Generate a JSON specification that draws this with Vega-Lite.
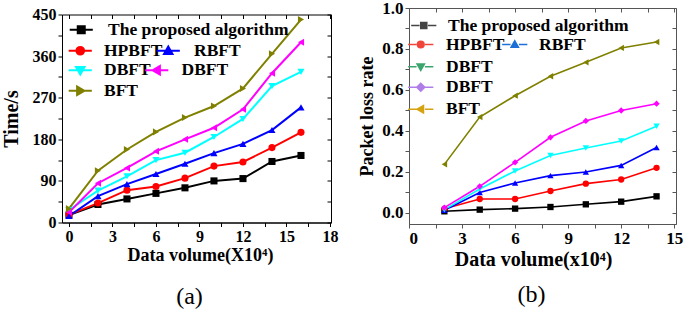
{
  "$schema": "https://vega.github.io/schema/vega-lite/v6.json",
  "padding": {"left": 0, "top": -2, "right": 0, "bottom": 0},
  "background": "white",
  "spacing": 19,
  "config": {
    "font": "Liberation Serif",
    "axis": {"grid": false, "labelOverlap": false, "labelFont": "Liberation Serif", "labelFontWeight": "bold", "titleFont": "Liberation Serif", "titleFontWeight": "bold", "labelColor": "#000", "titleColor": "#000"},
    "legend": {"labelFont": "Liberation Serif", "labelFontWeight": "bold", "labelColor": "#000", "labelLimit": 400, "padding": 0, "title": null}
  },
  "datasets": {
    "time": [
      {"series": "The proposed algorithm", "x": 0, "y": 16}, {"series": "The proposed algorithm", "x": 2, "y": 39}, {"series": "The proposed algorithm", "x": 4, "y": 51}, {"series": "The proposed algorithm", "x": 6, "y": 63}, {"series": "The proposed algorithm", "x": 8, "y": 75}, {"series": "The proposed algorithm", "x": 10, "y": 90}, {"series": "The proposed algorithm", "x": 12, "y": 95}, {"series": "The proposed algorithm", "x": 14, "y": 132}, {"series": "The proposed algorithm", "x": 16, "y": 145},
      {"series": "HPBFT", "x": 0, "y": 17}, {"series": "HPBFT", "x": 2, "y": 42}, {"series": "HPBFT", "x": 4, "y": 70}, {"series": "HPBFT", "x": 6, "y": 78}, {"series": "HPBFT", "x": 8, "y": 96}, {"series": "HPBFT", "x": 10, "y": 122}, {"series": "HPBFT", "x": 12, "y": 131}, {"series": "HPBFT", "x": 14, "y": 162}, {"series": "HPBFT", "x": 16, "y": 195},
      {"series": "RBFT", "x": 0, "y": 14}, {"series": "RBFT", "x": 2, "y": 57}, {"series": "RBFT", "x": 4, "y": 83}, {"series": "RBFT", "x": 6, "y": 105}, {"series": "RBFT", "x": 8, "y": 127}, {"series": "RBFT", "x": 10, "y": 150}, {"series": "RBFT", "x": 12, "y": 170}, {"series": "RBFT", "x": 14, "y": 200}, {"series": "RBFT", "x": 16, "y": 249},
      {"series": "DBFT", "x": 0, "y": 27}, {"series": "DBFT", "x": 2, "y": 69}, {"series": "DBFT", "x": 4, "y": 100}, {"series": "DBFT", "x": 6, "y": 135}, {"series": "DBFT", "x": 8, "y": 151}, {"series": "DBFT", "x": 10, "y": 185}, {"series": "DBFT", "x": 12, "y": 224}, {"series": "DBFT", "x": 14, "y": 295}, {"series": "DBFT", "x": 16, "y": 326},
      {"series": "DBFT-2", "x": 0, "y": 22}, {"series": "DBFT-2", "x": 2, "y": 85}, {"series": "DBFT-2", "x": 4, "y": 118}, {"series": "DBFT-2", "x": 6, "y": 154}, {"series": "DBFT-2", "x": 8, "y": 180}, {"series": "DBFT-2", "x": 10, "y": 205}, {"series": "DBFT-2", "x": 12, "y": 245}, {"series": "DBFT-2", "x": 14, "y": 323}, {"series": "DBFT-2", "x": 16, "y": 390},
      {"series": "BFT", "x": 0, "y": 30}, {"series": "BFT", "x": 2, "y": 112}, {"series": "BFT", "x": 4, "y": 158}, {"series": "BFT", "x": 6, "y": 196}, {"series": "BFT", "x": 8, "y": 227}, {"series": "BFT", "x": 10, "y": 252}, {"series": "BFT", "x": 12, "y": 290}, {"series": "BFT", "x": 14, "y": 365}, {"series": "BFT", "x": 16, "y": 439}
    ],
    "loss": [
      {"series": "The proposed algorithm", "x": 2, "y": 0.008}, {"series": "The proposed algorithm", "x": 4, "y": 0.016}, {"series": "The proposed algorithm", "x": 6, "y": 0.021}, {"series": "The proposed algorithm", "x": 8, "y": 0.029}, {"series": "The proposed algorithm", "x": 10, "y": 0.042}, {"series": "The proposed algorithm", "x": 12, "y": 0.055}, {"series": "The proposed algorithm", "x": 14, "y": 0.081},
      {"series": "HPBFT", "x": 2, "y": 0.02}, {"series": "HPBFT", "x": 4, "y": 0.068}, {"series": "HPBFT", "x": 6, "y": 0.068}, {"series": "HPBFT", "x": 8, "y": 0.107}, {"series": "HPBFT", "x": 10, "y": 0.143}, {"series": "HPBFT", "x": 12, "y": 0.163}, {"series": "HPBFT", "x": 14, "y": 0.22},
      {"series": "RBFT", "x": 2, "y": 0.013}, {"series": "RBFT", "x": 4, "y": 0.1}, {"series": "RBFT", "x": 6, "y": 0.146}, {"series": "RBFT", "x": 8, "y": 0.182}, {"series": "RBFT", "x": 10, "y": 0.2}, {"series": "RBFT", "x": 12, "y": 0.232}, {"series": "RBFT", "x": 14, "y": 0.319},
      {"series": "DBFT", "x": 2, "y": 0.016}, {"series": "DBFT", "x": 4, "y": 0.117}, {"series": "DBFT", "x": 6, "y": 0.205}, {"series": "DBFT", "x": 8, "y": 0.28}, {"series": "DBFT", "x": 10, "y": 0.317}, {"series": "DBFT", "x": 12, "y": 0.351}, {"series": "DBFT", "x": 14, "y": 0.423},
      {"series": "DBFT-2", "x": 2, "y": 0.026}, {"series": "DBFT-2", "x": 4, "y": 0.13}, {"series": "DBFT-2", "x": 6, "y": 0.247}, {"series": "DBFT-2", "x": 8, "y": 0.369}, {"series": "DBFT-2", "x": 10, "y": 0.449}, {"series": "DBFT-2", "x": 12, "y": 0.5}, {"series": "DBFT-2", "x": 14, "y": 0.533},
      {"series": "BFT", "x": 2, "y": 0.237}, {"series": "BFT", "x": 4, "y": 0.468}, {"series": "BFT", "x": 6, "y": 0.572}, {"series": "BFT", "x": 8, "y": 0.667}, {"series": "BFT", "x": 10, "y": 0.735}, {"series": "BFT", "x": 12, "y": 0.805}, {"series": "BFT", "x": 14, "y": 0.834}
    ]
  },
  "hconcat": [
    {
      "bounds": "flush",
      "spacing": 5.5,
      "vconcat": [
        {
          "width": 269,
          "height": 1,
          "data": {"values": []},
          "mark": "point",
          "view": {"stroke": null}
        },
        {
          "width": 269,
          "height": 208,
          "data": {"name": "time"},
          "view": {"stroke": "#000", "strokeWidth": 1},
          "title": {"text": "(a)", "orient": "bottom", "anchor": "middle", "font": "Liberation Serif", "fontSize": 24, "fontWeight": "normal", "color": "#000", "offset": 20, "dx": -7},
          "layer": [
            {
              "mark": {"type": "line", "strokeWidth": 2},
              "encoding": {
                "x": {"field": "x", "type": "quantitative", "scale": {"domain": [-0.48, 18.07], "nice": false, "zero": false}, "axis": {"orient": "bottom", "values": [0, 1.5, 3, 4.5, 6, 7.5, 9, 10.5, 12, 13.5, 15, 16.5, 18], "labelExpr": "datum.value % 3 == 0 ? datum.label : ''", "labelFontSize": 16, "tickSize": 4, "tickColor": "#000", "domainColor": "#000", "labelPadding": 2, "title": "Data volume(X10⁴)", "titleFontSize": 18, "titlePadding": 2, "titleX": 138}},
                "y": {"field": "y", "type": "quantitative", "scale": {"domain": [0, 450], "nice": false}, "axis": {"orient": "left", "values": [0, 45, 90, 135, 180, 225, 270, 315, 360, 405, 450], "labelExpr": "datum.value % 90 == 0 ? datum.label : ''", "labelFontSize": 16, "tickSize": 4, "tickColor": "#000", "domainColor": "#000", "labelPadding": 2, "title": "Time/s", "titleFontSize": 20, "titlePadding": 11}},
                "color": {"field": "series", "type": "nominal", "scale": {"domain": ["The proposed algorithm", "HPBFT", "RBFT", "DBFT", "DBFT-2", "BFT"], "range": ["#000000", "#ff0000", "#0000ff", "#00ffff", "#ff00ff", "#808000"]}, "legend": null}
              }
            },
            {
              "mark": {"type": "point", "filled": true, "opacity": 1, "size": 50},
              "encoding": {
                "x": {"field": "x", "type": "quantitative", "scale": {"domain": [-0.48, 18.07], "nice": false, "zero": false}, "axis": null},
                "y": {"field": "y", "type": "quantitative", "scale": {"domain": [0, 450], "nice": false}, "axis": null},
                "color": {"field": "series", "type": "nominal", "scale": {"domain": ["The proposed algorithm", "HPBFT", "RBFT", "DBFT", "DBFT-2", "BFT"], "range": ["#000000", "#ff0000", "#0000ff", "#00ffff", "#ff00ff", "#808000"]}, "legend": null},
                "shape": {"field": "series", "type": "nominal", "scale": {"domain": ["The proposed algorithm", "HPBFT", "RBFT", "DBFT", "DBFT-2", "BFT"], "range": ["square", "circle", "triangle-up", "triangle-down", "triangle-left", "triangle-right"]}, "legend": null}
              }
            },
            {
              "transform": [{"filter": "false"}],
              "mark": {"type": "point", "opacity": 1},
              "encoding": {
                "x": {"field": "x", "type": "quantitative", "scale": {"domain": [-0.48, 18.07], "nice": false, "zero": false}, "axis": {"orient": "top", "values": [0, 1.5, 3, 4.5, 6, 7.5, 9, 10.5, 12, 13.5, 15, 16.5, 18], "labels": false, "domain": false, "tickSize": -4, "tickColor": "#000", "title": null}},
                "y": {"field": "y", "type": "quantitative", "scale": {"domain": [0, 450], "nice": false}, "axis": {"orient": "right", "values": [0, 45, 90, 135, 180, 225, 270, 315, 360, 405, 450], "labels": false, "domain": false, "tickSize": -4, "tickColor": "#000", "title": null}}
              }
            },
            {
              "transform": [{"filter": "false"}],
              "mark": {"type": "point", "filled": true, "opacity": 1},
              "encoding": {
                "shape": {"field": "series", "type": "nominal", "scale": {"domain": ["The proposed algorithm"], "range": ["M-3.3,0H3.3M-1,-1H1V1H-1Z"]}, "legend": {"orient": "none", "legendX": 10.5, "legendY": 6.5, "symbolSize": 49, "symbolStrokeWidth": 2, "labelOffset": 18, "labelFontSize": 17.5, "labelFontWeight": "bold"}},
                "fill": {"field": "series", "type": "nominal", "scale": {"domain": ["The proposed algorithm"], "range": ["#000000"]}, "legend": {"orient": "none", "legendX": 10.5, "legendY": 6.5, "symbolSize": 49, "symbolStrokeWidth": 2, "labelOffset": 18, "labelFontSize": 17.5, "labelFontWeight": "bold"}},
                "stroke": {"field": "series", "type": "nominal", "scale": {"domain": ["The proposed algorithm"], "range": ["#000000"]}, "legend": {"orient": "none", "legendX": 10.5, "legendY": 6.5, "symbolSize": 49, "symbolStrokeWidth": 2, "labelOffset": 18, "labelFontSize": 17.5, "labelFontWeight": "bold"}}
              }
            },
            {
              "transform": [{"filter": "false"}],
              "mark": {"type": "point", "filled": true, "opacity": 1},
              "encoding": {
                "shape": {"field": "series", "type": "nominal", "scale": {"domain": ["HPBFT"], "range": ["M-3.3,0H3.3M1.1,0A1.1,1.1,0,1,1,-1.1,0A1.1,1.1,0,1,1,1.1,0Z"]}, "legend": {"orient": "none", "legendX": 9.5, "legendY": 27.5, "symbolSize": 49, "symbolStrokeWidth": 2, "labelOffset": 15, "labelFontSize": 17.5, "labelFontWeight": "bold"}},
                "fill": {"field": "series", "type": "nominal", "scale": {"domain": ["HPBFT"], "range": ["#ff0000"]}, "legend": {"orient": "none", "legendX": 9.5, "legendY": 27.5, "symbolSize": 49, "symbolStrokeWidth": 2, "labelOffset": 15, "labelFontSize": 17.5, "labelFontWeight": "bold"}},
                "stroke": {"field": "series", "type": "nominal", "scale": {"domain": ["HPBFT"], "range": ["#ff0000"]}, "legend": {"orient": "none", "legendX": 9.5, "legendY": 27.5, "symbolSize": 49, "symbolStrokeWidth": 2, "labelOffset": 15, "labelFontSize": 17.5, "labelFontWeight": "bold"}}
              }
            },
            {
              "transform": [{"filter": "false"}],
              "mark": {"type": "point", "filled": true, "opacity": 1},
              "encoding": {
                "shape": {"field": "series", "type": "nominal", "scale": {"domain": ["RBFT"], "range": ["M-3.3,0H3.3M0,-1.2L1.2,0.9H-1.2Z"]}, "legend": {"orient": "none", "legendX": 97.5, "legendY": 27.5, "symbolSize": 49, "symbolStrokeWidth": 2, "labelOffset": 17, "labelFontSize": 17.5, "labelFontWeight": "bold"}},
                "fill": {"field": "series", "type": "nominal", "scale": {"domain": ["RBFT"], "range": ["#0000ff"]}, "legend": {"orient": "none", "legendX": 97.5, "legendY": 27.5, "symbolSize": 49, "symbolStrokeWidth": 2, "labelOffset": 17, "labelFontSize": 17.5, "labelFontWeight": "bold"}},
                "stroke": {"field": "series", "type": "nominal", "scale": {"domain": ["RBFT"], "range": ["#0000ff"]}, "legend": {"orient": "none", "legendX": 97.5, "legendY": 27.5, "symbolSize": 49, "symbolStrokeWidth": 2, "labelOffset": 17, "labelFontSize": 17.5, "labelFontWeight": "bold"}}
              }
            },
            {
              "transform": [{"filter": "false"}],
              "mark": {"type": "point", "filled": true, "opacity": 1},
              "encoding": {
                "shape": {"field": "series", "type": "nominal", "scale": {"domain": ["DBFT"], "range": ["M-3.3,0H3.3M0,1.2L1.2,-0.9H-1.2Z"]}, "legend": {"orient": "none", "legendX": 9.5, "legendY": 47, "symbolSize": 49, "symbolStrokeWidth": 2, "labelOffset": 15, "labelFontSize": 17.5, "labelFontWeight": "bold"}},
                "fill": {"field": "series", "type": "nominal", "scale": {"domain": ["DBFT"], "range": ["#00ffff"]}, "legend": {"orient": "none", "legendX": 9.5, "legendY": 47, "symbolSize": 49, "symbolStrokeWidth": 2, "labelOffset": 15, "labelFontSize": 17.5, "labelFontWeight": "bold"}},
                "stroke": {"field": "series", "type": "nominal", "scale": {"domain": ["DBFT"], "range": ["#00ffff"]}, "legend": {"orient": "none", "legendX": 9.5, "legendY": 47, "symbolSize": 49, "symbolStrokeWidth": 2, "labelOffset": 15, "labelFontSize": 17.5, "labelFontWeight": "bold"}}
              }
            },
            {
              "transform": [{"filter": "false"}],
              "mark": {"type": "point", "filled": true, "opacity": 1},
              "encoding": {
                "shape": {"field": "series", "type": "nominal", "scale": {"domain": ["DBFT-2"], "range": ["M-3.3,0H3.3M-1.2,0L0.9,-1.2V1.2Z"]}, "legend": {"orient": "none", "legendX": 86, "legendY": 47, "symbolSize": 49, "symbolStrokeWidth": 2, "labelOffset": 16, "labelFontSize": 17.5, "labelFontWeight": "bold", "labelExpr": "'DBFT'"}},
                "fill": {"field": "series", "type": "nominal", "scale": {"domain": ["DBFT-2"], "range": ["#ff00ff"]}, "legend": {"orient": "none", "legendX": 86, "legendY": 47, "symbolSize": 49, "symbolStrokeWidth": 2, "labelOffset": 16, "labelFontSize": 17.5, "labelFontWeight": "bold", "labelExpr": "'DBFT'"}},
                "stroke": {"field": "series", "type": "nominal", "scale": {"domain": ["DBFT-2"], "range": ["#ff00ff"]}, "legend": {"orient": "none", "legendX": 86, "legendY": 47, "symbolSize": 49, "symbolStrokeWidth": 2, "labelOffset": 16, "labelFontSize": 17.5, "labelFontWeight": "bold", "labelExpr": "'DBFT'"}}
              }
            },
            {
              "transform": [{"filter": "false"}],
              "mark": {"type": "point", "filled": true, "opacity": 1},
              "encoding": {
                "shape": {"field": "series", "type": "nominal", "scale": {"domain": ["BFT"], "range": ["M-3.3,0H3.3M1.2,0L-0.9,-1.2V1.2Z"]}, "legend": {"orient": "none", "legendX": 9.5, "legendY": 67.5, "symbolSize": 49, "symbolStrokeWidth": 2, "labelOffset": 15, "labelFontSize": 17.5, "labelFontWeight": "bold"}},
                "fill": {"field": "series", "type": "nominal", "scale": {"domain": ["BFT"], "range": ["#808000"]}, "legend": {"orient": "none", "legendX": 9.5, "legendY": 67.5, "symbolSize": 49, "symbolStrokeWidth": 2, "labelOffset": 15, "labelFontSize": 17.5, "labelFontWeight": "bold"}},
                "stroke": {"field": "series", "type": "nominal", "scale": {"domain": ["BFT"], "range": ["#808000"]}, "legend": {"orient": "none", "legendX": 9.5, "legendY": 67.5, "symbolSize": 49, "symbolStrokeWidth": 2, "labelOffset": 15, "labelFontSize": 17.5, "labelFontWeight": "bold"}}
              }
            }
          ],
          "resolve": {"scale": {"shape": "independent", "fill": "independent", "stroke": "independent"}, "axis": {"x": "independent", "y": "independent"}}
        }
      ]
    },
    {
      "width": 267,
      "height": 216,
      "data": {"name": "loss"},
      "view": {"stroke": "#555", "strokeWidth": 1},
      "title": {"text": "(b)", "orient": "bottom", "anchor": "middle", "font": "Liberation Serif", "fontSize": 24, "fontWeight": "normal", "color": "#000", "offset": 14, "dx": -11},
      "layer": [
        {
          "mark": {"type": "line", "strokeWidth": 1.6},
          "encoding": {
            "x": {"field": "x", "type": "quantitative", "scale": {"domain": [0, 15.1], "nice": false, "zero": false}, "axis": {"orient": "bottom", "values": [0, 1.5, 3, 4.5, 6, 7.5, 9, 10.5, 12, 13.5, 15], "labelExpr": "datum.value % 3 == 0 ? datum.label : ''", "labelFontSize": 17, "tickSize": 4, "tickColor": "#555", "domainColor": "#555", "labelPadding": 2, "title": "Data volume(x10⁴)", "titleFontSize": 20, "titlePadding": 3, "titleX": 124}},
            "y": {"field": "y", "type": "quantitative", "scale": {"domain": [-0.054, 1.0], "nice": false, "zero": false}, "axis": {"orient": "left", "values": [0, 0.1, 0.2, 0.3, 0.4, 0.5, 0.6, 0.7, 0.8, 0.9, 1.0], "format": ".1f", "labelExpr": "round(datum.value * 10) % 2 == 0 ? datum.label : ''", "labelFontSize": 17, "tickSize": 4, "tickColor": "#555", "domainColor": "#555", "labelPadding": 2, "title": "Packet loss rate", "titleFontSize": 18, "titlePadding": 5}},
            "color": {"field": "series", "type": "nominal", "scale": {"domain": ["The proposed algorithm", "HPBFT", "RBFT", "DBFT", "DBFT-2", "BFT"], "range": ["#444444", "#f0453a", "#1c6fd6", "#3aa56c", "#b07ee8", "#d6a310"]}, "legend": null}
          }
        },
        {
          "mark": {"type": "point", "filled": true, "opacity": 1, "size": 40},
          "encoding": {
            "x": {"field": "x", "type": "quantitative", "scale": {"domain": [0, 15.1], "nice": false, "zero": false}, "axis": null},
            "y": {"field": "y", "type": "quantitative", "scale": {"domain": [-0.054, 1.0], "nice": false, "zero": false}, "axis": null},
            "color": {"field": "series", "type": "nominal", "scale": {"domain": ["The proposed algorithm", "HPBFT", "RBFT", "DBFT", "DBFT-2", "BFT"], "range": ["#444444", "#f0453a", "#1c6fd6", "#3aa56c", "#b07ee8", "#d6a310"]}, "legend": null},
            "shape": {"field": "series", "type": "nominal", "scale": {"domain": ["The proposed algorithm", "HPBFT", "RBFT", "DBFT", "DBFT-2", "BFT"], "range": ["square", "circle", "triangle-up", "triangle-down", "diamond", "triangle-left"]}, "legend": null}
          }
        },
        {
          "transform": [{"filter": "false"}],
          "mark": {"type": "point", "opacity": 1},
          "encoding": {
            "x": {"field": "x", "type": "quantitative", "scale": {"domain": [0, 15.1], "nice": false, "zero": false}, "axis": {"orient": "top", "values": [0, 1.5, 3, 4.5, 6, 7.5, 9, 10.5, 12, 13.5, 15], "labels": false, "domain": false, "tickSize": -4, "tickColor": "#555", "title": null}},
            "y": {"field": "y", "type": "quantitative", "scale": {"domain": [-0.054, 1.0], "nice": false, "zero": false}, "axis": {"orient": "right", "values": [0, 0.1, 0.2, 0.3, 0.4, 0.5, 0.6, 0.7, 0.8, 0.9, 1.0], "labels": false, "domain": false, "tickSize": -4, "tickColor": "#555", "title": null}}
          }
        },
        {
          "transform": [{"filter": "false"}],
          "mark": {"type": "point", "filled": true, "opacity": 1},
          "encoding": {
            "shape": {"field": "series", "type": "nominal", "scale": {"domain": ["The proposed algorithm"], "range": ["M-4.2,0H-1.4M1.4,0H4.2M-1,-1H1V1H-1Z"]}, "legend": {"orient": "none", "legendX": 6, "legendY": 8.75, "symbolSize": 36, "symbolStrokeWidth": 1.6, "labelOffset": 15.5, "labelFontSize": 17.5, "labelFontWeight": "bold"}},
            "fill": {"field": "series", "type": "nominal", "scale": {"domain": ["The proposed algorithm"], "range": ["#444444"]}, "legend": {"orient": "none", "legendX": 6, "legendY": 8.75, "symbolSize": 36, "symbolStrokeWidth": 1.6, "labelOffset": 15.5, "labelFontSize": 17.5, "labelFontWeight": "bold"}},
            "stroke": {"field": "series", "type": "nominal", "scale": {"domain": ["The proposed algorithm"], "range": ["#444444"]}, "legend": {"orient": "none", "legendX": 6, "legendY": 8.75, "symbolSize": 36, "symbolStrokeWidth": 1.6, "labelOffset": 15.5, "labelFontSize": 17.5, "labelFontWeight": "bold"}}
          }
        },
        {
          "transform": [{"filter": "false"}],
          "mark": {"type": "point", "filled": true, "opacity": 1},
          "encoding": {
            "shape": {"field": "series", "type": "nominal", "scale": {"domain": ["HPBFT"], "range": ["M-4.2,0H-1.4M1.4,0H4.2M1.1,0A1.1,1.1,0,1,1,-1.1,0A1.1,1.1,0,1,1,1.1,0Z"]}, "legend": {"orient": "none", "legendX": 3, "legendY": 27.75, "symbolSize": 36, "symbolStrokeWidth": 1.6, "labelOffset": 16.5, "labelFontSize": 17.5, "labelFontWeight": "bold"}},
            "fill": {"field": "series", "type": "nominal", "scale": {"domain": ["HPBFT"], "range": ["#f0453a"]}, "legend": {"orient": "none", "legendX": 3, "legendY": 27.75, "symbolSize": 36, "symbolStrokeWidth": 1.6, "labelOffset": 16.5, "labelFontSize": 17.5, "labelFontWeight": "bold"}},
            "stroke": {"field": "series", "type": "nominal", "scale": {"domain": ["HPBFT"], "range": ["#f0453a"]}, "legend": {"orient": "none", "legendX": 3, "legendY": 27.75, "symbolSize": 36, "symbolStrokeWidth": 1.6, "labelOffset": 16.5, "labelFontSize": 17.5, "labelFontWeight": "bold"}}
          }
        },
        {
          "transform": [{"filter": "false"}],
          "mark": {"type": "point", "filled": true, "opacity": 1},
          "encoding": {
            "shape": {"field": "series", "type": "nominal", "scale": {"domain": ["RBFT"], "range": ["M-4.2,0H-1.4M1.4,0H4.2M0,-1.2L1.2,0.9H-1.2Z"]}, "legend": {"orient": "none", "legendX": 97, "legendY": 27.75, "symbolSize": 36, "symbolStrokeWidth": 1.6, "labelOffset": 15.5, "labelFontSize": 17.5, "labelFontWeight": "bold"}},
            "fill": {"field": "series", "type": "nominal", "scale": {"domain": ["RBFT"], "range": ["#1c6fd6"]}, "legend": {"orient": "none", "legendX": 97, "legendY": 27.75, "symbolSize": 36, "symbolStrokeWidth": 1.6, "labelOffset": 15.5, "labelFontSize": 17.5, "labelFontWeight": "bold"}},
            "stroke": {"field": "series", "type": "nominal", "scale": {"domain": ["RBFT"], "range": ["#1c6fd6"]}, "legend": {"orient": "none", "legendX": 97, "legendY": 27.75, "symbolSize": 36, "symbolStrokeWidth": 1.6, "labelOffset": 15.5, "labelFontSize": 17.5, "labelFontWeight": "bold"}}
          }
        },
        {
          "transform": [{"filter": "false"}],
          "mark": {"type": "point", "filled": true, "opacity": 1},
          "encoding": {
            "shape": {"field": "series", "type": "nominal", "scale": {"domain": ["DBFT"], "range": ["M-4.2,0H-1.4M1.4,0H4.2M0,1.2L1.2,-0.9H-1.2Z"]}, "legend": {"orient": "none", "legendX": 3, "legendY": 50, "symbolSize": 36, "symbolStrokeWidth": 1.6, "labelOffset": 16.5, "labelFontSize": 17.5, "labelFontWeight": "bold"}},
            "fill": {"field": "series", "type": "nominal", "scale": {"domain": ["DBFT"], "range": ["#3aa56c"]}, "legend": {"orient": "none", "legendX": 3, "legendY": 50, "symbolSize": 36, "symbolStrokeWidth": 1.6, "labelOffset": 16.5, "labelFontSize": 17.5, "labelFontWeight": "bold"}},
            "stroke": {"field": "series", "type": "nominal", "scale": {"domain": ["DBFT"], "range": ["#3aa56c"]}, "legend": {"orient": "none", "legendX": 3, "legendY": 50, "symbolSize": 36, "symbolStrokeWidth": 1.6, "labelOffset": 16.5, "labelFontSize": 17.5, "labelFontWeight": "bold"}}
          }
        },
        {
          "transform": [{"filter": "false"}],
          "mark": {"type": "point", "filled": true, "opacity": 1},
          "encoding": {
            "shape": {"field": "series", "type": "nominal", "scale": {"domain": ["DBFT-2"], "range": ["M-4.2,0H-1.4M1.4,0H4.2M0,-1.3L1.3,0L0,1.3L-1.3,0Z"]}, "legend": {"orient": "none", "legendX": 3, "legendY": 70.5, "symbolSize": 36, "symbolStrokeWidth": 1.6, "labelOffset": 16.5, "labelFontSize": 17.5, "labelFontWeight": "bold", "labelExpr": "'DBFT'"}},
            "fill": {"field": "series", "type": "nominal", "scale": {"domain": ["DBFT-2"], "range": ["#b07ee8"]}, "legend": {"orient": "none", "legendX": 3, "legendY": 70.5, "symbolSize": 36, "symbolStrokeWidth": 1.6, "labelOffset": 16.5, "labelFontSize": 17.5, "labelFontWeight": "bold", "labelExpr": "'DBFT'"}},
            "stroke": {"field": "series", "type": "nominal", "scale": {"domain": ["DBFT-2"], "range": ["#b07ee8"]}, "legend": {"orient": "none", "legendX": 3, "legendY": 70.5, "symbolSize": 36, "symbolStrokeWidth": 1.6, "labelOffset": 16.5, "labelFontSize": 17.5, "labelFontWeight": "bold", "labelExpr": "'DBFT'"}}
          }
        },
        {
          "transform": [{"filter": "false"}],
          "mark": {"type": "point", "filled": true, "opacity": 1},
          "encoding": {
            "shape": {"field": "series", "type": "nominal", "scale": {"domain": ["BFT"], "range": ["M-4.2,0H-1.4M1.4,0H4.2M-1.2,0L0.9,-1.2V1.2Z"]}, "legend": {"orient": "none", "legendX": 3, "legendY": 92.5, "symbolSize": 36, "symbolStrokeWidth": 1.6, "labelOffset": 16.5, "labelFontSize": 17.5, "labelFontWeight": "bold"}},
            "fill": {"field": "series", "type": "nominal", "scale": {"domain": ["BFT"], "range": ["#d6a310"]}, "legend": {"orient": "none", "legendX": 3, "legendY": 92.5, "symbolSize": 36, "symbolStrokeWidth": 1.6, "labelOffset": 16.5, "labelFontSize": 17.5, "labelFontWeight": "bold"}},
            "stroke": {"field": "series", "type": "nominal", "scale": {"domain": ["BFT"], "range": ["#d6a310"]}, "legend": {"orient": "none", "legendX": 3, "legendY": 92.5, "symbolSize": 36, "symbolStrokeWidth": 1.6, "labelOffset": 16.5, "labelFontSize": 17.5, "labelFontWeight": "bold"}}
          }
        }
      ],
      "resolve": {"scale": {"shape": "independent", "fill": "independent", "stroke": "independent"}, "axis": {"x": "independent", "y": "independent"}}
    }
  ]
}
